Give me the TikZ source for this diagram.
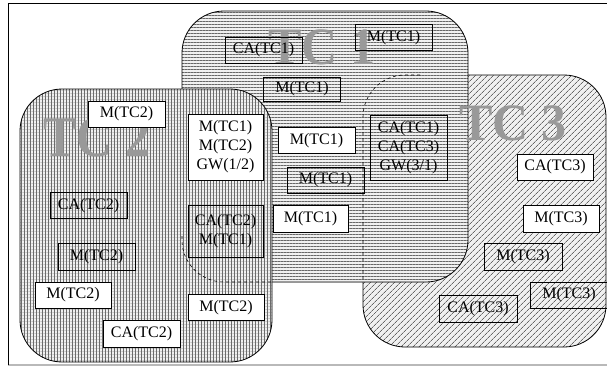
\documentclass[tikz,border=0pt]{standalone}
\usepackage{fontspec}
\setmainfont{Liberation Serif}
\usetikzlibrary{patterns.meta}
\begin{document}
\begin{tikzpicture}[x=1pt,y=-1pt,
  lbl/.style={draw=black, line width=0.8pt, minimum width=77pt, minimum height=26pt,
    inner sep=0pt, font=\fontsize{16}{19}\selectfont, align=center},
  wbox/.style={lbl, fill=white},
  tbox/.style={lbl},
  big/.style={text=black!40, inner sep=0pt, font=\fontsize{50}{50}\selectfont\bfseries},
  region/.style={rounded corners=42pt},
  edge/.style={draw=black, line width=0.8pt, rounded corners=42pt},
  hidden/.style={draw=black, line width=0.6pt, dashed, rounded corners=42pt}]
\useasboundingbox (0,0) rectangle (607,369);
\fill[white] (0,0) rectangle (607,369);
% frame
\draw[gray!55, line width=1.5pt] (8,365) -- (607,365);
\draw[black, line width=1pt] (8,365) -- (8,3.5) -- (607,3.5);
% TC3 region
\fill[gray!12, region] (363,75) rectangle (606,347);
\fill[region, pattern={Lines[angle=45,distance=4pt,line width=0.7pt]}, pattern color=black!60] (363,75) rectangle (606,347);
\draw[edge] (363,75) rectangle (606,347);
% TC1 region
\fill[gray!12, region] (182,11) rectangle (468,282);
\fill[region, pattern={Lines[angle=0,distance=3pt,line width=0.75pt]}, pattern color=black!60] (182,11) rectangle (468,282);
\draw[edge] (182,11) rectangle (468,282);
\draw[hidden] (420,75) -- (363,75) -- (363,282);
% TC2 region
\fill[gray!12, region] (20,89) rectangle (272,362);
\fill[region, pattern={Lines[angle=0,distance=3pt,line width=0.4pt]}, pattern color=black!22] (20,89) rectangle (272,362);
\fill[region, pattern={Lines[angle=90,distance=3pt,line width=0.7pt]}, pattern color=black!58] (20,89) rectangle (272,362);
\draw[edge] (20,89) rectangle (272,362);
\draw[hidden] (182,236) -- (182,282) -- (272,282);
% big labels
\node[big] (lab1) at (322,47) {\scalebox{1}[1.05]{TC 1}};
\node[big] (lab2) at (97,138) {\scalebox{1}[1.15]{TC 2}};
\node[big] (lab3) at (513,123) {\scalebox{1}[1.05]{TC 3}};
% boxes
\node[tbox] (b1) at (263.5,50) {CA(TC1)};
\node[tbox] (b2) at (393.5,37.5) {M(TC1)};
\node[tbox, minimum height=24pt] (b3) at (302,89) {M(TC1)};
\node[wbox] (b4) at (126.5,114) {M(TC2)};
\node[wbox, minimum width=75pt, minimum height=66pt] (b5) at (225.5,147) {M(TC1)\\M(TC2)\\GW(1/2)};
\node[wbox] (b6) at (316.5,140.5) {M(TC1)};
\node[tbox] (b7) at (325.5,180) {M(TC1)};
\node[tbox, minimum height=65pt] (b8) at (408.5,147.5) {CA(TC1)\\CA(TC3)\\GW(3/1)};
\node[wbox, minimum width=76pt] (b9) at (555,167) {CA(TC3)};
\node[tbox] (b10) at (88.5,205.5) {CA(TC2)};
\node[tbox, minimum width=75pt, minimum height=52pt] (b11) at (225.5,231) {CA(TC2)\\M(TC1)};
\node[wbox, minimum width=75pt, minimum height=27pt] (b12) at (310.5,218.5) {M(TC1)};
\node[tbox, minimum height=27pt] (b13) at (96.5,256.5) {M(TC2)};
\node[wbox, minimum width=76pt] (b14) at (73,295) {M(TC2)};
\node[wbox, minimum width=76pt] (b15) at (226,307.5) {M(TC2)};
\node[wbox, minimum height=27pt] (b16) at (141.5,333.5) {CA(TC2)};
\node[wbox, minimum width=76pt, minimum height=27pt] (b17) at (561,218.5) {M(TC3)};
\node[tbox, minimum width=78pt, minimum height=27pt] (b18) at (523,256.5) {M(TC3)};
\node[tbox] (b19) at (569,295) {M(TC3)};
\node[tbox, minimum width=78pt, minimum height=27pt] (b20) at (478,308.5) {CA(TC3)};
\end{tikzpicture}
\end{document}
